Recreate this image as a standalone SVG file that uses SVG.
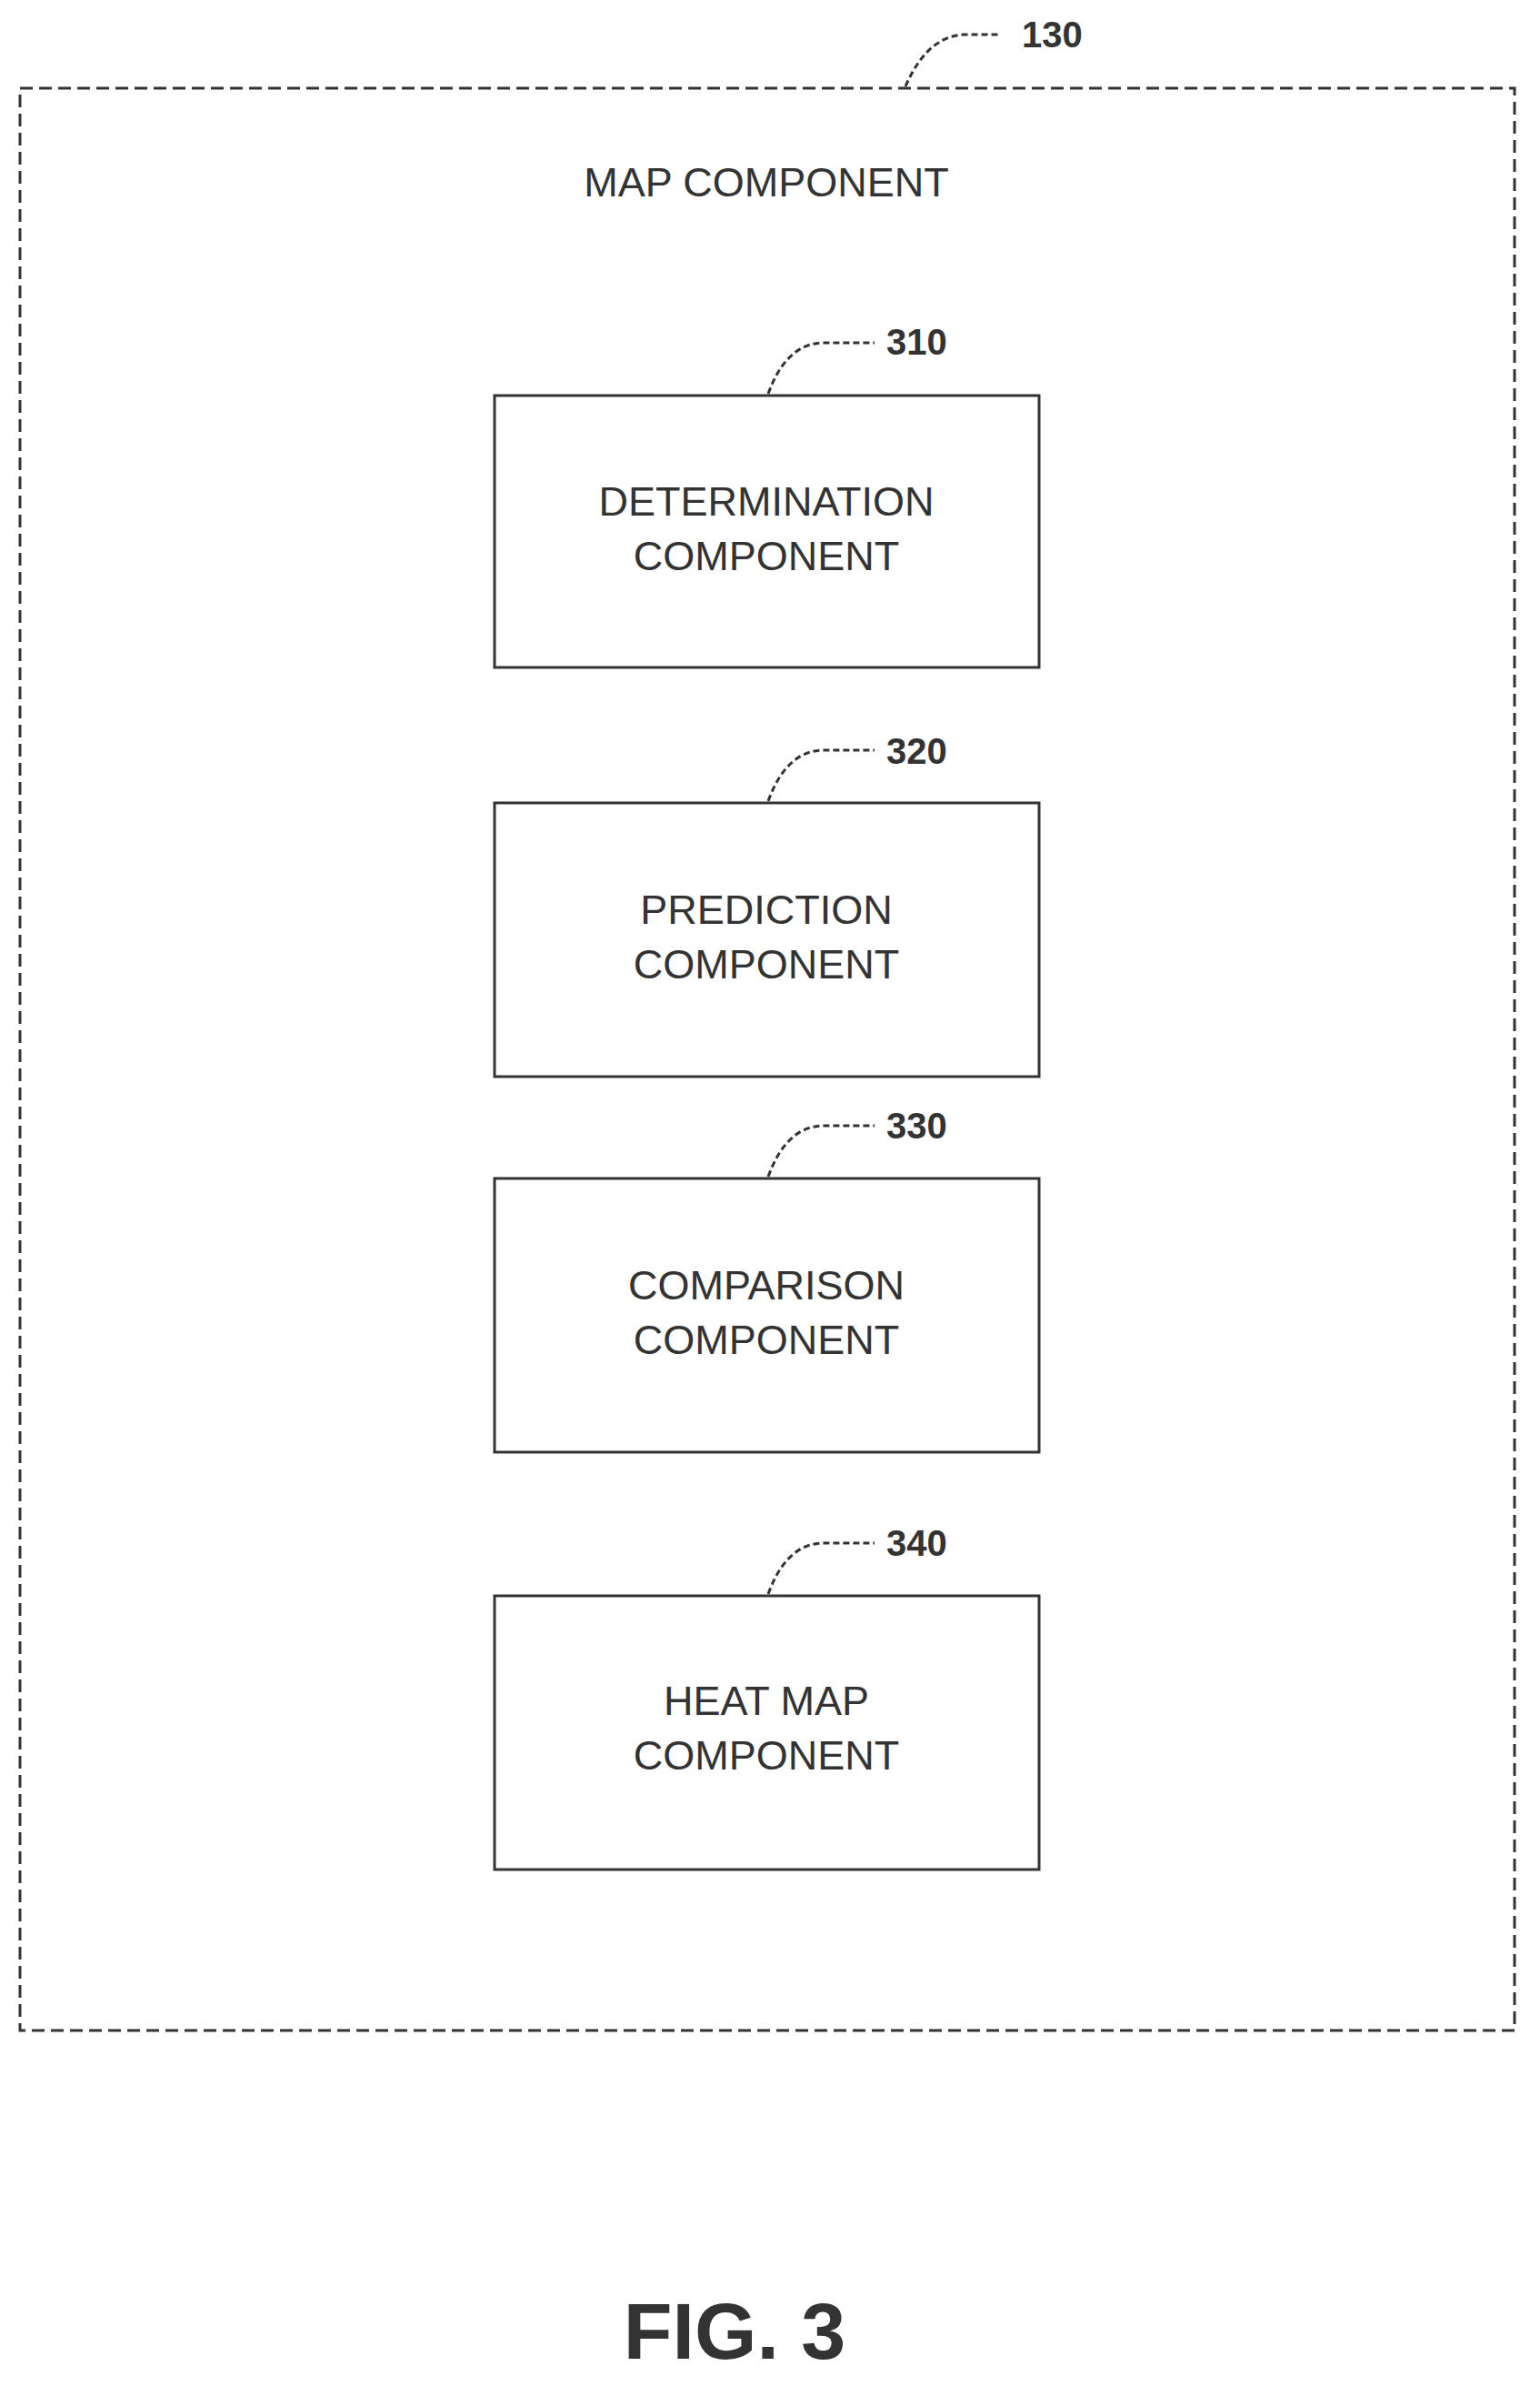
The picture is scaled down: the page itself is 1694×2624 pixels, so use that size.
<svg xmlns="http://www.w3.org/2000/svg" width="1694" height="2624" viewBox="0 0 1694 2624">
<style>
.box{fill:none;stroke:#333;stroke-width:3}
.lead{fill:none;stroke:#333;stroke-width:3;stroke-dasharray:7 4}
.t{font-family:"Liberation Sans",Arial,sans-serif;font-size:45px;fill:#333;text-anchor:middle}
.n{font-family:"Liberation Sans",Arial,sans-serif;font-size:40px;font-weight:bold;fill:#333}
</style>
<rect width="1694" height="2624" fill="#fff"/>
<g id="map">
<rect x="22" y="97" width="1644" height="2136" fill="none" stroke="#333" stroke-width="3" stroke-dasharray="14 7"/>
<text class="t" x="843" y="216">MAP COMPONENT</text>
<text class="n" x="1124" y="52">130</text>
</g>
<g id="n310"><rect class="box" x="544" y="435" width="599" height="299"/><text class="t" x="843" y="567">DETERMINATION</text><text class="t" x="843" y="627">COMPONENT</text><text class="n" x="975" y="390">310</text></g>
<g id="n320"><rect class="box" x="544" y="883" width="599" height="301"/><text class="t" x="843" y="1016">PREDICTION</text><text class="t" x="843" y="1076">COMPONENT</text><text class="n" x="975" y="840">320</text></g>
<g id="n330"><rect class="box" x="544" y="1296" width="599" height="301"/><text class="t" x="843" y="1429">COMPARISON</text><text class="t" x="843" y="1489">COMPONENT</text><text class="n" x="975" y="1252">330</text></g>
<g id="n340"><rect class="box" x="544" y="1755" width="599" height="301"/><text class="t" x="843" y="1886">HEAT MAP</text><text class="t" x="843" y="1946">COMPONENT</text><text class="n" x="975" y="1711">340</text></g>
<g id="connectors">
<path class="lead" d="M996 95 Q1020 40 1060 38 L1100 38"/>
<path class="lead" d="M845 433 Q865 378 905 377 L962 377"/>
<path class="lead" d="M845 881 Q865 826 905 825 L962 825"/>
<path class="lead" d="M845 1294 Q865 1239 905 1238 L962 1238"/>
<path class="lead" d="M845 1753 Q865 1698 905 1697 L962 1697"/>
</g>
<text x="808" y="2594" font-family="Liberation Sans,Arial,sans-serif" font-size="88" font-weight="bold" fill="#333" text-anchor="middle">FIG. 3</text>
</svg>
